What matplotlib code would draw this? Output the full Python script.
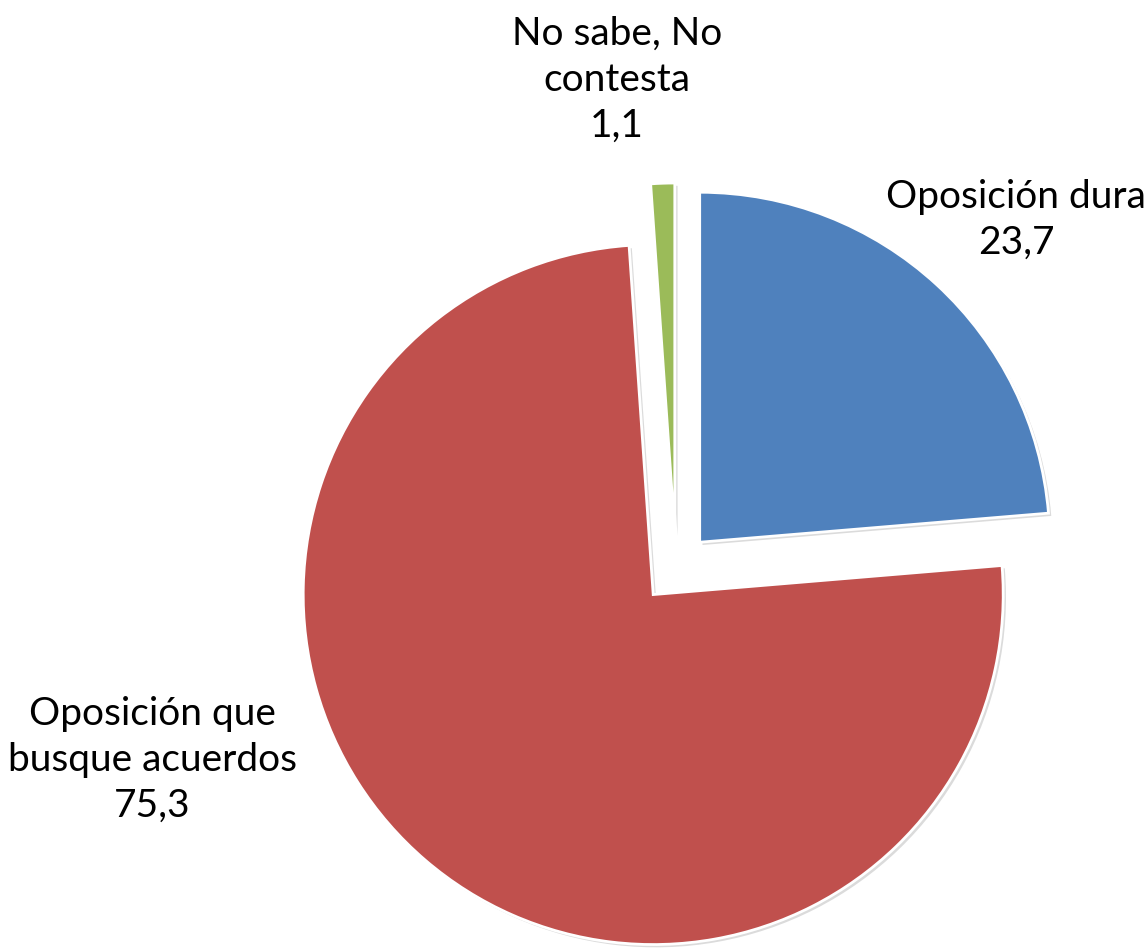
import matplotlib
matplotlib.use("Agg")
import matplotlib.pyplot as plt
import matplotlib.patheffects as pe

plt.rcParams["font.family"] = ["Lato", "DejaVu Sans"]

# data (Spanish decimal commas in labels)
categories = ["Oposición dura", "Oposición que\nbusque acuerdos", "No sabe, No\ncontesta"]
values = [23.7, 75.3, 1.1]
value_labels = ["23,7", "75,3", "1,1"]
colors = ["#4F81BD", "#C0504D", "#9BBB59"]

W, H = 1147, 949
CX, CY, R = 676, 568, 350  # pie centre and radius in pixels


def px(x, y):
    # pixel position -> data coords (1 unit = pie radius)
    return (x - CX) / R, (CY - y) / R


fig = plt.figure(figsize=(W / 100, H / 100), dpi=100)
ax = fig.add_axes([0, 0, 1, 1])

wedges, _ = ax.pie(
    values,
    colors=colors,
    startangle=90,
    counterclock=False,
    explode=[0.1, 0.1, 0.1],
    radius=1.0,
    wedgeprops=dict(
        edgecolor="white",
        linewidth=2.0,
        path_effects=[
            pe.SimplePatchShadow(offset=(2, -2), shadow_rgbFace="#999999", alpha=0.35),
            pe.Normal(),
        ],
    ),
)

ax.set_xlim(-CX / R, (W - CX) / R)
ax.set_ylim(-(H - CY) / R, CY / R)
ax.set_aspect("auto")
ax.axis("off")

label_pos = [(1016, 220), (152, 760), (617, 80)]
for name, val, (x, y) in zip(categories, value_labels, label_pos):
    tx, ty = px(x, y)
    ax.text(tx, ty, f"{name}\n{val}", ha="center", va="center",
            fontsize=28, linespacing=1.35, color="black")

fig.savefig("out.png", dpi=100)
